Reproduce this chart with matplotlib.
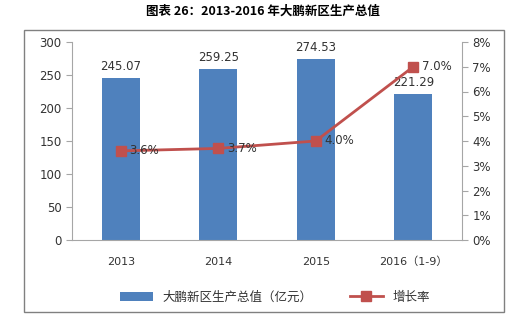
import matplotlib.pyplot as plt
from matplotlib.patches import Rectangle
from matplotlib.ticker import FuncFormatter

plt.rcParams['font.family'] = ['DejaVu Sans', 'Noto Sans CJK SC']
cjk = ['Noto Sans CJK SC', 'DejaVu Sans']

years = ['2013', '2014', '2015', '2016（1-9）']
gdp = [245.07, 259.25, 274.53, 221.29]
growth = [3.6, 3.7, 4.0, 7.0]

bar_color = '#4F81BD'
line_color = '#C0504D'
axis_gray = '#A6A6A6'
text_color = '#333333'

fig = plt.figure(figsize=(5.26, 3.26), dpi=100)
W, H = 526, 326

# outer frame
fig.patches.append(Rectangle((24 / W, 1 - 312 / H), 480 / W, 282 / H,
                             transform=fig.transFigure, fill=False,
                             edgecolor='#808080', lw=1.0))

fig.text(0.5, 1 - 11 / H, '图表 26：2013-2016 年大鹏新区生产总值',
         ha='center', va='center', fontsize=9, fontweight='bold', color='black',
         family=cjk)

ax = fig.add_axes([72 / W, 1 - 240 / H, 390 / W, 198 / H])
x = range(len(years))
bars = ax.bar(x, gdp, width=0.39, color=bar_color, label='大鹏新区生产总值（亿元）', zorder=2)
for xi, v in zip(x, gdp):
    ax.text(xi, v + 8, f'{v:.2f}', ha='center', va='bottom', fontsize=8.5, color=text_color)

ax.set_ylim(0, 300)
ax.set_yticks(range(0, 301, 50))
ax.set_xlim(-0.5, len(years) - 0.5)
ax.set_xticks(list(x))
ax.set_xticklabels(years, fontsize=8, color=text_color)
ax.tick_params(axis='y', labelsize=8.5, colors=text_color, length=4, color=axis_gray)
ax.tick_params(axis='x', length=0, pad=12)
for side in ['top', 'right']:
    ax.spines[side].set_visible(False)
ax.spines['left'].set_color(axis_gray)
ax.spines['bottom'].set_color(axis_gray)

ax2 = ax.twinx()
line, = ax2.plot(list(x), growth, color=line_color, lw=2, marker='s', markersize=7,
                 label='增长率', zorder=3)
for xi, v in zip(x, growth):
    ax2.text(xi + 0.09, v, f'{v:.1f}%', ha='left', va='center', fontsize=8.5, color=text_color)
ax2.set_ylim(0, 8)
ax2.set_yticks(range(0, 9))
ax2.yaxis.set_major_formatter(FuncFormatter(lambda v, p: f'{v:.0f}%'))
ax2.tick_params(axis='y', labelsize=8.5, colors=text_color, length=4, color=axis_gray)
for side in ['top', 'left', 'bottom']:
    ax2.spines[side].set_visible(False)
ax2.spines['right'].set_color(axis_gray)

fig.legend(handles=[bars, line], loc='center', bbox_to_anchor=(275 / W, 1 - 297 / H),
           ncol=2, frameon=False, handlelength=2.6, columnspacing=3,
           prop={'family': cjk, 'size': 9}, labelcolor=text_color)

fig.savefig('out.png', dpi=100)
